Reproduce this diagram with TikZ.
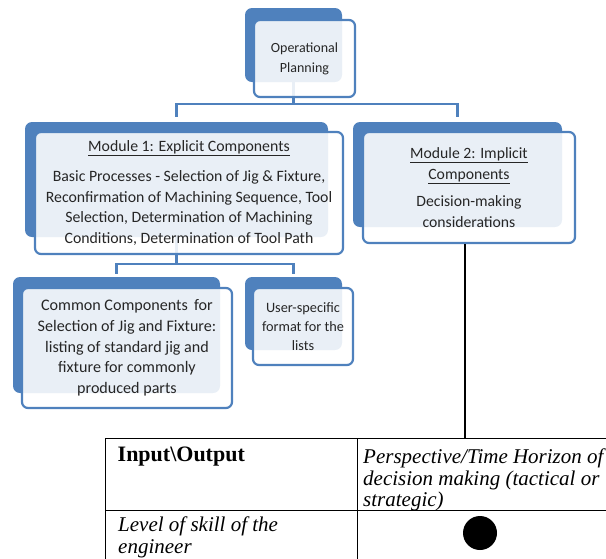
\documentclass[tikz,border=0pt]{standalone}
\usepackage{fontspec}
\setmainfont{Liberation Serif}
\newfontfamily\calibri{Carlito}

\definecolor{boxblue}{RGB}{79,129,189}
\tikzstyle{backbox} = [rectangle, rounded corners=7pt, fill=boxblue, inner sep=0pt]
\tikzstyle{frontbox} = [rectangle, rounded corners=6pt, draw=boxblue, line width=2.2pt, fill=white, fill opacity=0.88, text opacity=1, text=black!85, align=center, inner sep=0pt, font=\calibri]
\tikzstyle{link} = [draw=boxblue, line width=2.4pt]
\tikzstyle{tabline} = [draw=black, line width=1pt]
\tikzstyle{cell} = [anchor=north west, align=left, inner sep=0pt, font=\itshape\fontsize{21}{21.5}\selectfont]

\begin{document}
\begin{tikzpicture}[x=1pt, y=-1pt]
\useasboundingbox (0,0) rectangle (606,558);
% back plates
\node (opb) [backbox, minimum width=97pt, minimum height=74pt] at (293.5,45) {};
\node (m1b) [backbox, minimum width=303pt, minimum height=115pt] at (176.5,179.5) {};
\node (m2b) [backbox, minimum width=209pt, minimum height=105pt] at (457.5,174.5) {};
\node (ccb) [backbox, minimum width=207pt, minimum height=116pt] at (116.5,335) {};
\node (usb) [backbox, minimum width=97pt, minimum height=73pt] at (293.5,313.5) {};
% tree
\draw [link] (opb.south) -- ++(0,22) coordinate (j1) -| ([yshift=5pt]m1b.north);
\draw [link] (j1) -| ([yshift=5pt]m2b.north);
\draw [link] (m1b.south) -- ++(0,27) coordinate (j2) -| ([yshift=3pt]ccb.north);
\draw [link] (j2) -| ([yshift=3pt]usb.north);
% front boxes
\node (op) [frontbox, minimum width=101pt, minimum height=77pt, font=\calibri\fontsize{14}{20}\selectfont] at (304.5,58.5) {Operational\\Planning};
\node (m1) [frontbox, minimum width=308pt, minimum height=122pt, font=\calibri\fontsize{15.8}{20.5}\selectfont] at (189,193) {\underline{Module 1: Explicit Components}\\[9.5pt]
 Basic Processes - Selection of Jig \& Fixture,\\Reconfirmation of Machining Sequence, Tool\\Selection, Determination of Machining\\Conditions, Determination of Tool Path};
\node (m2) [frontbox, minimum width=212pt, minimum height=111pt, font=\calibri\fontsize{15.7}{20.5}\selectfont] at (469,187.5) {\underline{Module 2: Implicit}\\\underline{Components}\\[7pt]Decision-making\\considerations};
\node (cc) [frontbox, minimum width=210pt, minimum height=120pt, font=\calibri\fontsize{16.1}{20.7}\selectfont] at (127,348) {Common Components\, for\\Selection of Jig and Fixture:\\listing of standard jig and\\fixture for commonly\\produced parts};
\node (us) [frontbox, minimum width=100pt, minimum height=77pt, font=\calibri\fontsize{14.3}{19}\selectfont] at (303,326.5) {User-specific\\format for the\\lists};
% table
\coordinate (tl) at (105,438);
\coordinate (tm) at (357,438);
\coordinate (rl) at (105,510);
\draw [tabline] (tl) -- ++(520,0);
\draw [tabline] (tl) -- ++(0,130);
\draw [tabline] (tm) -- ++(0,130);
\draw [tabline] (rl) -- ++(520,0);
\draw [line width=1.6pt] ([xshift=-4pt]m2.south) -- ([xshift=-4pt]m2.south |- tl);
\node (c11) [anchor=base west, inner sep=0pt, font=\bfseries\fontsize{22}{22}\selectfont] at (117.5,461) {Input\textbackslash Output};
\node (c12) [cell] at (363,449) {Perspective/Time Horizon of\\decision making (tactical or\\strategic)};
\node (c21) [cell] at (118,517) {Level of skill of the\\engineer};
\node (dot) [circle, fill=black, minimum size=34pt, inner sep=0pt] at (480,533) {};
\end{tikzpicture}
\end{document}
